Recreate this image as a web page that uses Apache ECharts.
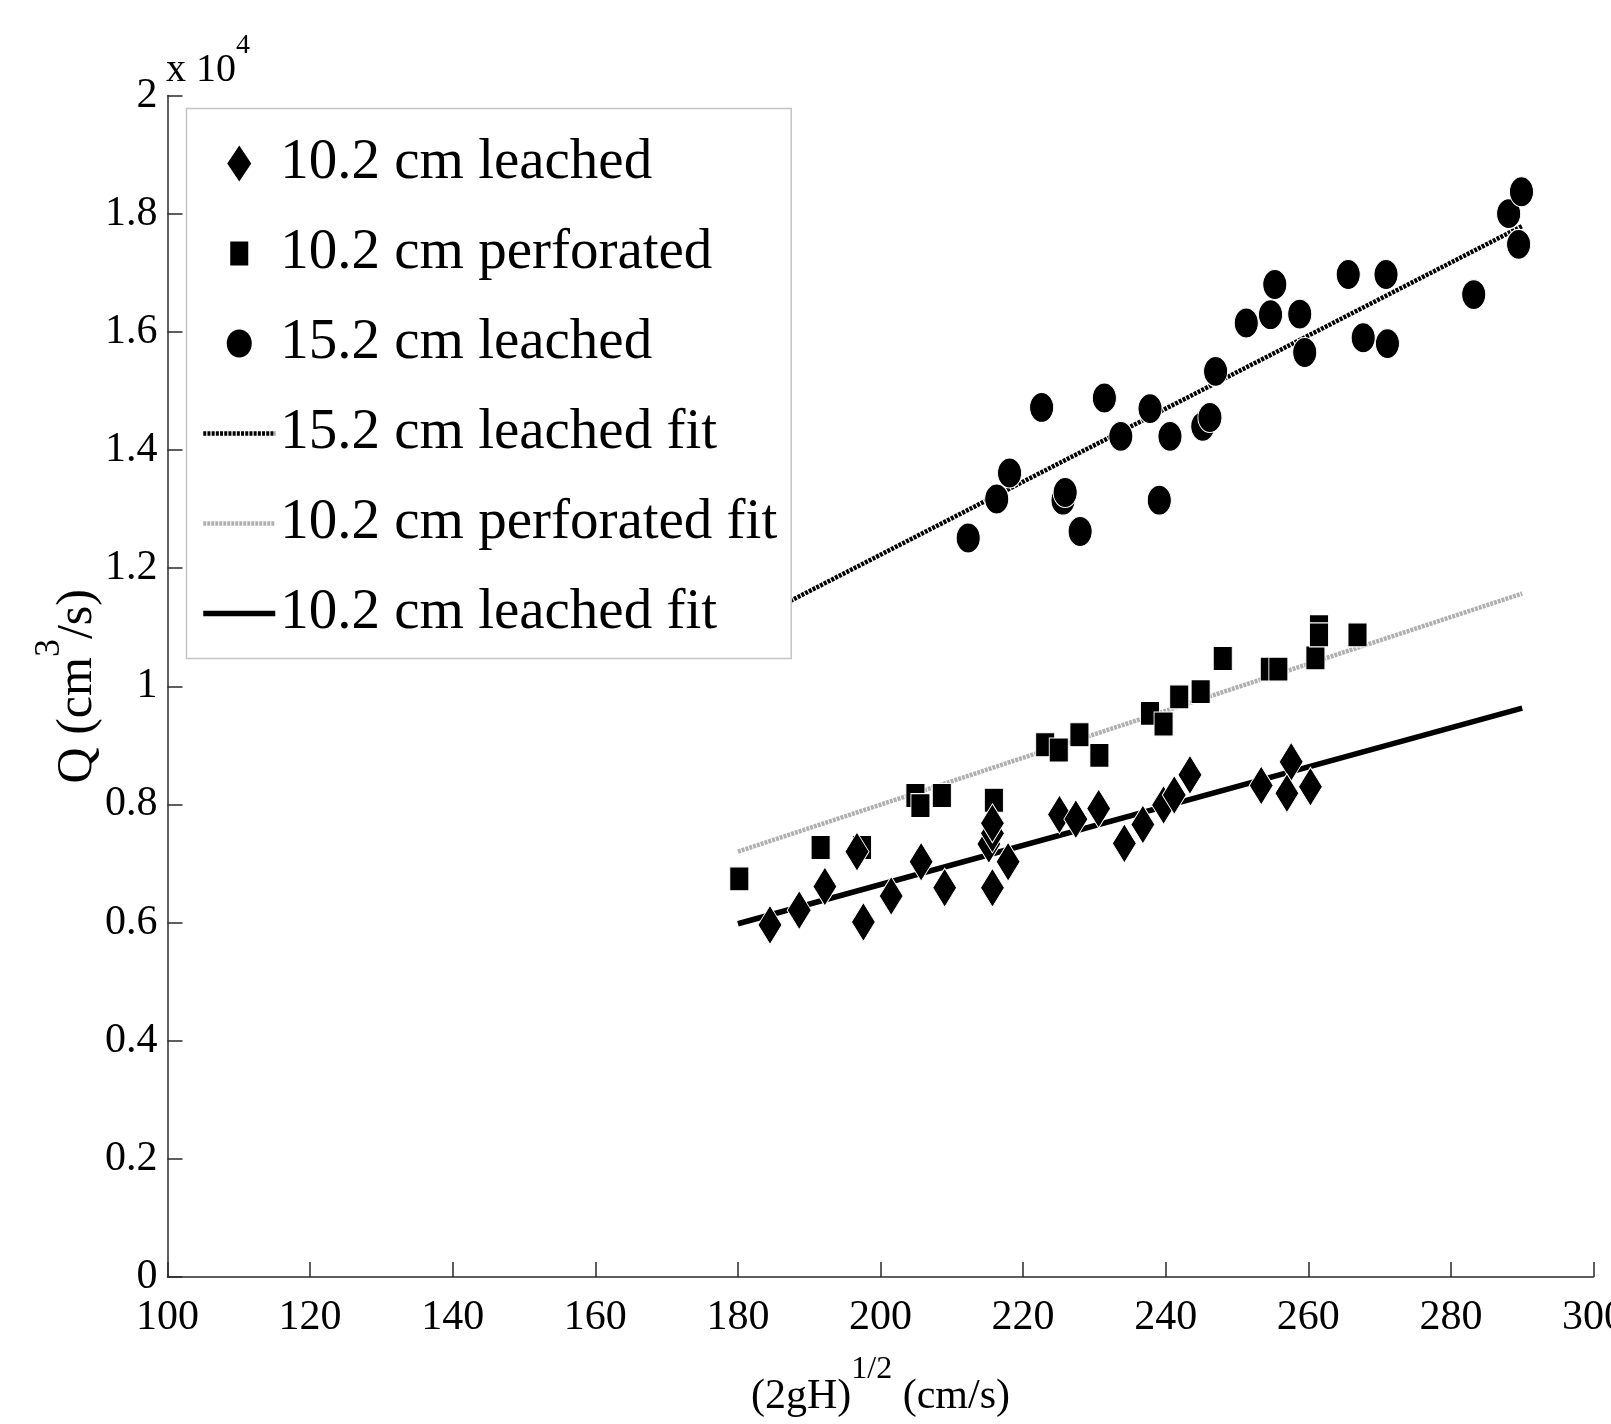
<!DOCTYPE html>
<html>
<head>
<meta charset="utf-8">
<script src="https://cdn.jsdelivr.net/npm/echarts@6/dist/echarts.min.js"></script>
<style>
    body { margin: 0; background: #fff; }
    #chart { width: 1611px; height: 1424px; }
</style>
</head>
<body>
<div id="chart"></div>
<script>
// (2gH)^1/2 in cm/s, Q in cm^3/s
var leached10X = [184.5, 188.6, 192.2, 196.7, 197.6, 201.5, 205.7, 209.0, 215.7, 215.2, 215.7, 215.7, 217.9,
    225.1, 227.4, 230.6, 234.2, 236.8, 239.7, 241.2, 243.4, 253.4, 257.6, 257.0, 260.3]
var leached10Y = [5960, 6210, 6610, 7200, 6010, 6450, 7030, 6590, 6590, 7330, 7510, 7680, 7030,
    7830, 7750, 7930, 7340, 7660, 7990, 8160, 8500, 8320, 8720, 8190, 8300]

var perforated10X = [180.2, 191.6, 197.4, 204.9, 205.6, 208.6, 215.9, 223.1, 225.0, 227.9, 230.7,
    237.8, 239.7, 241.9, 244.9, 248.0, 254.6, 255.8, 261.0, 261.5, 261.5, 266.9]
var perforated10Y = [6740, 7270, 7270, 8150, 7980, 8150, 8070, 9010, 8920, 9180, 8830,
    9540, 9360, 9820, 9910, 10470, 10290, 10290, 10480, 11010, 10870, 10870]

var leached15X = [212.3, 216.3, 218.1, 222.6, 225.6, 225.9, 228.0, 231.4, 233.7, 237.8, 239.1, 240.6, 245.2, 246.2,
    247.0, 251.3, 254.7, 255.3, 258.8, 259.5, 265.6, 267.7, 270.9, 271.1, 283.2, 288.1, 289.5, 289.9]
var leached15Y = [12510, 13170, 13610, 14720, 13150, 13280, 12620, 14880, 14230, 14700, 13150, 14230, 14400, 14550,
    15330, 16150, 16290, 16800, 16300, 15650, 16970, 15900, 16970, 15800, 16630, 18000, 17480, 18370]

var fitX = [180, 290]
var fit15Leached = [10990, 17790]
var fit10Perforated = [7200, 11570]
var fit10Leached = [5980, 9630]

var xTicks = { min: 100, max: 300, step: 20 }
var yTicks = { min: 0, max: 20000, step: 2000 }

var legendNames = ['10.2 cm leached', '10.2 cm perforated', '15.2 cm leached',
    '15.2 cm leached fit', '10.2 cm perforated fit', '10.2 cm leached fit']

var serif = "'Liberation Serif', 'Times New Roman', serif"

function pairs(xs, ys) {
    return xs.map((x, i) => [x, ys[i]])
}

// text with a raised superscript: base token sits at the bottom of a tall line
function supRich(size, supSize, raise) {
    return {
        a: { fontFamily: serif, fontWeight: 'normal', fontSize: size, lineHeight: size + raise, verticalAlign: 'bottom', color: '#000' },
        s: { fontFamily: serif, fontWeight: 'normal', fontSize: supSize, lineHeight: supSize, verticalAlign: 'top', color: '#000' }
    }
}

var myChart = echarts.init(document.getElementById('chart'))

var axisColor = '#2a2a2a'
var hideDot = { opacity: 0 }

option = {
    animation: false,
    backgroundColor: '#ffffff',
    title: {
        text: '{a|x 10}{s|4}',
        left: 166,
        top: 32,
        padding: 0,
        textStyle: {
            fontWeight: 'normal',
            rich: supRich(40, 28, 18)
        }
    },
    grid: {
        left: 167.5,
        right: 17.5,
        top: 95.5,
        bottom: 147,
        containLabel: false,
        outerBoundsMode: 'none'
    },
    legend: {
        data: [
            { name: legendNames[0], icon: 'path://M12,0L24,18L12,36L0,18Z' },
            { name: legendNames[1], icon: 'path://M0,-6M0,0L18,0L18,24L0,24ZM0,30' },
            { name: legendNames[2], icon: 'path://M0,14A12.5,14,0,1,1,25,14A12.5,14,0,1,1,0,14ZM0,-4M0,32' },
            { name: legendNames[3], itemStyle: hideDot },
            { name: legendNames[4], itemStyle: hideDot },
            { name: legendNames[5], itemStyle: hideDot }
        ],
        orient: 'vertical',
        left: 186.5,
        top: 108.5,
        padding: [25, 14, 15, 14],
        itemWidth: 72,
        itemHeight: 36,
        itemGap: 30,
        backgroundColor: '#ffffff',
        borderColor: '#c4c4c4',
        borderWidth: 1.5,
        borderRadius: 0,
        selectedMode: false,
        itemStyle: { borderWidth: 0 },
        lineStyle: { width: 'inherit' },
        textStyle: {
            fontFamily: serif,
            fontSize: 57,
            lineHeight: 60,
            color: '#000'
        }
    },
    xAxis: {
        type: 'value',
        min: xTicks.min,
        max: xTicks.max,
        interval: xTicks.step,
        name: '{a|(2gH)}{s|1/2}{a| (cm/s)}',
        nameLocation: 'middle',
        nameGap: 77,
        nameMoveOverlap: false,
        nameTextStyle: {
            rich: supRich(42, 32, 22)
        },
        axisLine: { show: true, onZero: false, lineStyle: { color: axisColor, width: 1.5 } },
        axisTick: { show: true, inside: true, length: 15, lineStyle: { color: axisColor, width: 1.5 } },
        axisLabel: {
            margin: 20,
            fontFamily: serif,
            fontSize: 42,
            color: '#000',
            showMinLabel: true,
            showMaxLabel: true
        },
        splitLine: { show: false }
    },
    yAxis: {
        type: 'value',
        min: yTicks.min,
        max: yTicks.max,
        interval: yTicks.step,
        name: '{a|Q (cm}{s|3}{a|/s)}',
        nameLocation: 'middle',
        nameGap: 65,
        nameMoveOverlap: false,
        nameTextStyle: {
            rich: supRich(50, 36, 21)
        },
        axisLine: { show: true, onZero: false, lineStyle: { color: axisColor, width: 1.5 } },
        axisTick: { show: true, inside: true, length: 15, lineStyle: { color: axisColor, width: 1.5 } },
        axisLabel: {
            margin: 10,
            fontFamily: serif,
            fontSize: 42,
            color: '#000',
            showMinLabel: true,
            showMaxLabel: true,
            formatter: (v) => String(+(v / 10000).toFixed(1))
        },
        splitLine: { show: false }
    },
    series: [{
        name: legendNames[3],
        type: 'line',
        data: pairs(fitX, fit15Leached),
        symbol: 'none',
        z: 2,
        itemStyle: { color: 'transparent' },
        lineStyle: { color: '#000', width: 4.5, type: [3, 1.2] }
    }, {
        name: legendNames[4],
        type: 'line',
        data: pairs(fitX, fit10Perforated),
        symbol: 'none',
        z: 2,
        itemStyle: { color: 'transparent' },
        lineStyle: { color: '#b0b0b0', width: 4.5, type: [3, 1] }
    }, {
        name: legendNames[5],
        type: 'line',
        data: pairs(fitX, fit10Leached),
        symbol: 'none',
        z: 2,
        itemStyle: { color: 'transparent' },
        lineStyle: { color: '#000', width: 5.5, type: 'solid' }
    }, {
        name: legendNames[1],
        type: 'scatter',
        data: pairs(perforated10X, perforated10Y),
        symbol: 'rect',
        symbolSize: [19, 24],
        z: 3,
        itemStyle: { color: '#000', borderColor: '#fff', borderWidth: 1, opacity: 1 }
    }, {
        name: legendNames[0],
        type: 'scatter',
        data: pairs(leached10X, leached10Y),
        symbol: 'diamond',
        symbolSize: [24, 39],
        z: 3,
        itemStyle: { color: '#000', borderColor: '#fff', borderWidth: 1, opacity: 1 }
    }, {
        name: legendNames[2],
        type: 'scatter',
        data: pairs(leached15X, leached15Y),
        symbol: 'circle',
        symbolSize: [24, 30],
        z: 3,
        itemStyle: { color: '#000', borderColor: '#fff', borderWidth: 1, opacity: 1 }
    }]
}

myChart.setOption(option)
</script>
</body>
</html>
